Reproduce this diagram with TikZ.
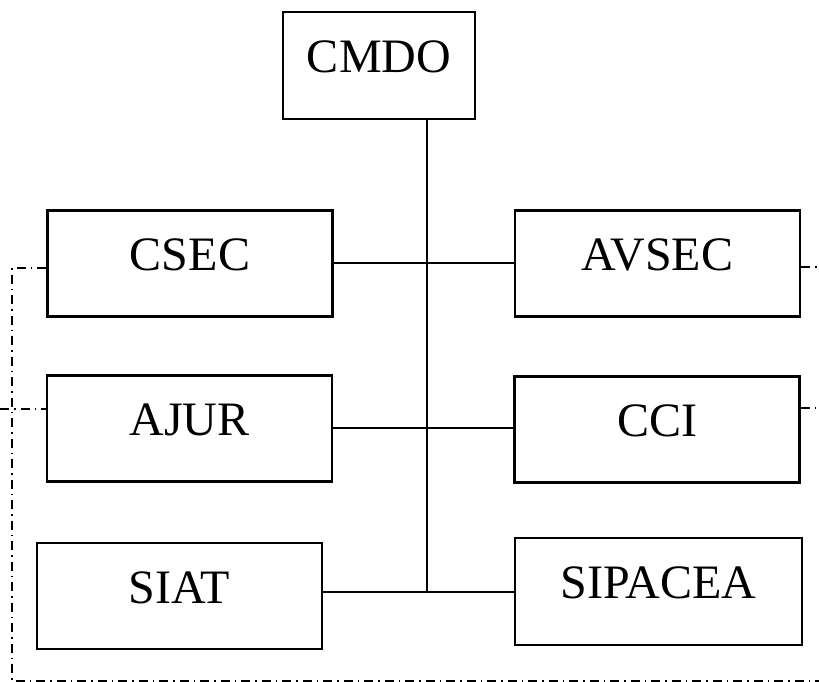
\documentclass[tikz,border=0pt]{standalone}
\usepackage{fontspec}
\setmainfont{Liberation Serif}
\usepackage{tikz}
\usepackage{xcolor}

\begin{document}
\begin{tikzpicture}[x=1pt,y=-1pt]
\tikzset{unit/.style={draw,line width=2.4pt,inner sep=0pt,text height=32pt,text depth=18pt,
  minimum width=285pt,minimum height=106pt,font=\fontsize{48}{56}\selectfont}}
\tikzset{link/.style={line width=2.2pt}}
\tikzset{dashdot/.style={line width=1.8pt,dash pattern=on 9pt off 5pt on 1.5pt off 5pt}}

\useasboundingbox (0,0) rectangle (819,682);

\node[unit,minimum width=192pt,minimum height=107pt] (cmdo) at (379,65.5) {CMDO};
\node[unit] (csec) at (190,263.5) {CSEC};
\node[unit] (avsec) at (657.5,263.5) {AVSEC};
\node[unit] (ajur) at (189.5,428.5) {AJUR};
\node[unit] (cci) at (657,429.5) {CCI};
\node[unit] (siat) at (179.5,596) {SIAT};
\node[unit,minimum width=287pt,minimum height=107pt] (sipacea) at (658.5,591.5) {SIPACEA};

\coordinate (j1) at (427,263);
\coordinate (j2) at (427,428);
\coordinate (j3) at (427,592);

\draw[link] (cmdo.south -| j1) -- (j3);
\draw[link] (csec.east |- j1) -- (avsec.west |- j1);
\draw[link] (ajur.east |- j2) -- (cci.west |- j2);
\draw[link] (siat.east |- j3) -- (sipacea.west |- j3);

% dash-dot liaisons
\coordinate (lc) at (12,268);
\coordinate (bl) at (12,681);
\coordinate (br) at (819,681);
\draw[dashdot] (csec.west |- lc) -- (lc) -- (bl) -- (br);
\draw[dashdot] (0,409) -- (ajur.west |- 0,409);
\draw[dashdot] (avsec.east |- 0,267) -- (819,267);
\draw[dashdot] (cci.east |- 0,408) -- (819,408);

\end{tikzpicture}
\end{document}
